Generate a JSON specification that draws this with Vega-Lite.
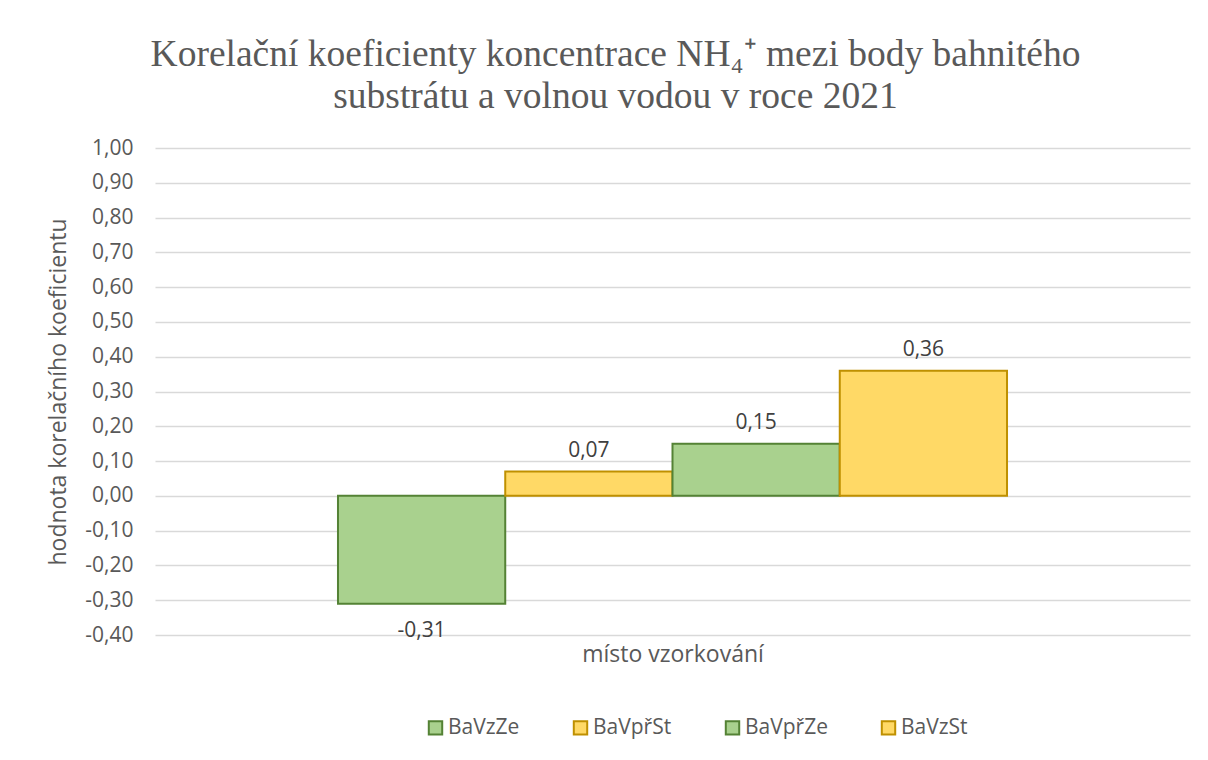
{
  "$schema": "https://vega.github.io/schema/vega-lite/v6.json",
  "width": 1035,
  "height": 487,
  "autosize": {"type": "none"},
  "padding": {"left": 155, "top": 148, "right": 18, "bottom": 125},
  "background": "white",
  "title": {
    "text": ["Korelační koeficienty koncentrace NH₄⁺ mezi body bahnitého", "substrátu a volnou vodou v roce 2021"],
    "font": "Liberation Serif",
    "fontSize": 37.5,
    "fontWeight": "normal",
    "color": "#595959",
    "anchor": "middle",
    "frame": "group",
    "dx": -57,
    "offset": 22,
    "lineHeight": 42
  },
  "config": {
    "locale": {"number": {"decimal": ",", "thousands": " ", "grouping": [3], "currency": ["", " Kč"], "minus": "-"}},
    "view": {"stroke": null},
    "font": "Open Sans"
  },
  "data": {
    "values": [
      {"misto": "", "serie": "BaVzZe", "hodnota": -0.31},
      {"misto": "", "serie": "BaVpřSt", "hodnota": 0.07},
      {"misto": "", "serie": "BaVpřZe", "hodnota": 0.15},
      {"misto": "", "serie": "BaVzSt", "hodnota": 0.36}
    ]
  },
  "encoding": {
    "x": {
      "field": "misto",
      "type": "nominal",
      "scale": {"paddingInner": 0, "paddingOuter": 0.2735},
      "axis": {"labels": false, "ticks": false, "domain": false, "title": "místo vzorkování", "titleFont": "Open Sans", "titleFontSize": 23, "titleFontWeight": "normal", "titleColor": "#595959", "titlePadding": 8}
    },
    "xOffset": {
      "field": "serie",
      "type": "nominal",
      "sort": ["BaVzZe", "BaVpřSt", "BaVpřZe", "BaVzSt"],
      "scale": {"paddingInner": 0, "paddingOuter": 0}
    },
    "y": {
      "field": "hodnota",
      "type": "quantitative",
      "scale": {"domain": [-0.4, 1.0], "nice": false, "zero": false},
      "axis": {
        "values": [-0.4, -0.3, -0.2, -0.1, 0, 0.1, 0.2, 0.3, 0.4, 0.5, 0.6, 0.7, 0.8, 0.9, 1.0],
        "format": ".2f",
        "ticks": false,
        "domain": false,
        "grid": true,
        "gridColor": "#d9d9d9",
        "gridWidth": 1.5,
        "labelFont": "Open Sans",
        "labelFontSize": 21,
        "labelColor": "#595959",
        "labelPadding": 22,
        "title": "hodnota korelačního koeficientu",
        "titleFont": "Open Sans",
        "titleFontSize": 23,
        "titleFontWeight": "normal",
        "titleColor": "#595959",
        "titlePadding": 14
      }
    }
  },
  "layer": [
    {
      "mark": {"type": "bar", "strokeWidth": 2},
      "encoding": {
        "fill": {
          "field": "serie",
          "type": "nominal",
          "scale": {"domain": ["BaVzZe", "BaVpřSt", "BaVpřZe", "BaVzSt"], "range": ["#A9D18E", "#FFD966", "#A9D18E", "#FFD966"]},
          "legend": {
            "title": null,
            "orient": "none",
            "legendX": 270,
            "legendY": 569,
            "direction": "horizontal",
            "symbolType": "square",
            "symbolSize": 180,
            "symbolStrokeWidth": 2,
            "labelFont": "Open Sans",
            "labelFontSize": 21,
            "labelColor": "#595959",
            "columnPadding": 49,
            "labelOffset": 2
          }
        },
        "stroke": {
          "field": "serie",
          "type": "nominal",
          "scale": {"domain": ["BaVzZe", "BaVpřSt", "BaVpřZe", "BaVzSt"], "range": ["#548235", "#BF9000", "#548235", "#BF9000"]},
          "legend": {
            "title": null,
            "orient": "none",
            "legendX": 270,
            "legendY": 569,
            "direction": "horizontal",
            "symbolType": "square",
            "symbolSize": 180,
            "symbolStrokeWidth": 2,
            "labelFont": "Open Sans",
            "labelFontSize": 21,
            "labelColor": "#595959",
            "columnPadding": 49,
            "labelOffset": 2
          }
        }
      }
    },
    {
      "transform": [{"filter": "datum.hodnota >= 0"}],
      "mark": {"type": "text", "baseline": "bottom", "dy": -11, "font": "Open Sans", "fontSize": 21, "color": "#404040"},
      "encoding": {"text": {"field": "hodnota", "type": "quantitative", "format": ".2f"}}
    },
    {
      "transform": [{"filter": "datum.hodnota < 0"}],
      "mark": {"type": "text", "baseline": "top", "dy": 16, "font": "Open Sans", "fontSize": 21, "color": "#404040"},
      "encoding": {"text": {"field": "hodnota", "type": "quantitative", "format": ".2f"}}
    }
  ]
}
